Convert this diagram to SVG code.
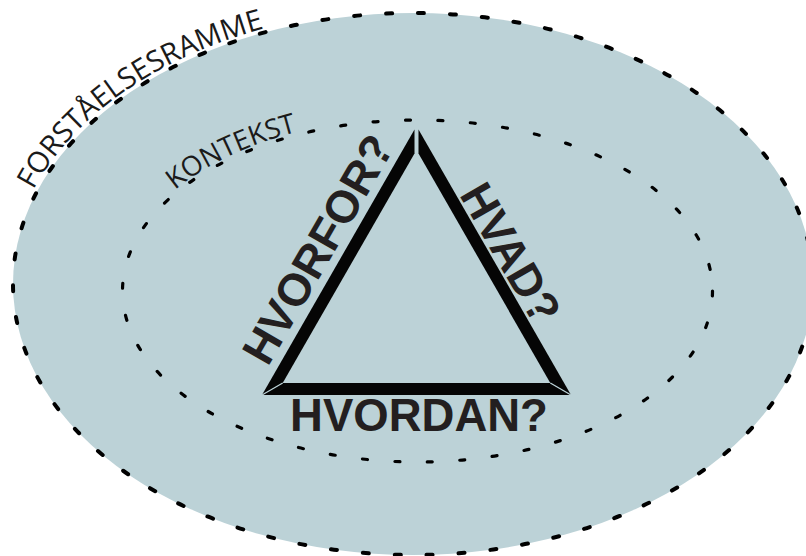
<svg xmlns="http://www.w3.org/2000/svg" width="806" height="556" viewBox="0 0 806 556">
<style>
.bold{font-family:"Liberation Sans",Arial,sans-serif;font-weight:bold;font-size:45.5px;fill:#231f20}
.arc{font-family:"Open Sans","Liberation Sans",sans-serif;fill:#1a1a1a}
.band{fill:#050505}
.seam{stroke:#bcd2d7;stroke-width:1.3;fill:none}
</style>
<defs>
<path id="outerPath" d="M 9 284 A 404 275 0 0 1 817 284"/>
<path id="innerPath" d="M 119.5 291 A 298 174 0 0 1 715.5 291"/>
</defs>
<g id="forstaelsesramme">
<ellipse cx="413" cy="284" rx="400" ry="271" fill="#bcd2d7" stroke="#000" stroke-width="4" stroke-dasharray="6 26" stroke-linecap="round"/>
<text class="arc" font-size="29"><textPath href="#outerPath" startOffset="98">FORSTÅELSESRAMME</textPath></text>
</g>
<g id="kontekst">
<ellipse cx="417.5" cy="291" rx="295" ry="171" fill="none" stroke="#000" stroke-width="3.2" stroke-dasharray="5 27.5" stroke-linecap="round"/>
<text class="arc" font-size="27.5"><textPath href="#innerPath" startOffset="119">KONTEKST</textPath></text>
</g>
<g id="triangle">
<polygon class="band" points="414.5,129.5 262,395 282.7,383 414.5,153.6"/>
<polygon class="band" points="418.5,129.5 571,395 550.3,383 418.5,153.6"/>
<polygon class="band" points="262,395 571,395 550.3,383 282.7,383"/>
<line class="seam" x1="262" y1="395" x2="282.7" y2="383"/>
<line class="seam" x1="571" y1="395" x2="550.3" y2="383"/>
</g>
<g id="hvorfor">
<text class="bold" x="331.5" y="257" text-anchor="middle" transform="rotate(-60 331.5 257)">HVORFOR?</text>
</g>
<g id="hvad">
<text class="bold" x="497" y="261" text-anchor="middle" transform="rotate(60 497 261)">HVAD?</text>
</g>
<g id="hvordan">
<text class="bold" x="419" y="431" text-anchor="middle">HVORDAN?</text>
</g>
<g id="connectors"></g>
</svg>
